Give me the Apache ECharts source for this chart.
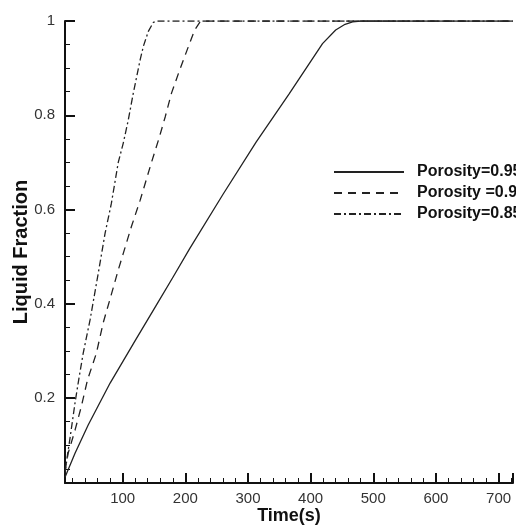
<!DOCTYPE html>
<html>
<head>
<meta charset="utf-8">
<title>Liquid Fraction</title>
<script src="https://cdn.jsdelivr.net/npm/echarts@6/dist/echarts.min.js"></script>
<style>
  html, body { margin: 0; padding: 0; background: #fff; }
  #chart { width: 516px; height: 525px; }
</style>
</head>
<body>
<div id="chart"></div>
<script>
// values
var legendNames = ['Porosity=0.95', 'Porosity =0.9', 'Porosity=0.85'];

var time095 = [8, 24, 45, 80, 120, 155, 181, 207, 260, 313, 366, 419, 440, 455, 467, 480, 723];
var frac095 = [0.032, 0.083, 0.143, 0.232, 0.322, 0.40, 0.458, 0.517, 0.632, 0.743, 0.846, 0.952, 0.981, 0.993, 0.998, 1, 1];

var time090 = [8, 13, 24, 34, 44, 58, 69, 82, 93, 101, 114, 128, 146, 158, 168, 178, 191, 205, 215, 223, 232, 723];
var frac090 = [0.045, 0.083, 0.132, 0.182, 0.239, 0.295, 0.36, 0.42, 0.472, 0.507, 0.564, 0.62, 0.70, 0.751, 0.797, 0.847, 0.896, 0.946, 0.981, 0.997, 1, 1];

var time085 = [8, 12, 16, 24, 30, 37, 48, 62, 72, 82, 93, 101, 109, 117, 128, 133, 141, 149, 155, 723];
var frac085 = [0.04, 0.08, 0.115, 0.19, 0.24, 0.295, 0.366, 0.472, 0.55, 0.613, 0.70, 0.741, 0.79, 0.847, 0.918, 0.946, 0.978, 0.997, 1, 1];

function pairs(xs, ys) {
    var out = [];
    for (var i = 0; i < xs.length; i++) {
        out.push([xs[i], ys[i]]);
    }
    return out;
}

var myChart = echarts.init(document.getElementById('chart'));
var labelFont = "'Liberation Sans', Arial, sans-serif";
var lineColor = '#222';

var option = {
    animation: false,
    backgroundColor: '#fff',
    grid: {
        left: 65,
        right: 3,
        top: 21,
        bottom: 42,
        containLabel: false,
        outerBoundsMode: 'none'
    },
    legend: {
        orient: 'vertical',
        left: 333,
        top: 164,
        itemWidth: 70,
        itemHeight: 14,
        itemGap: 5,
        padding: 0,
        data: legendNames,
        itemStyle: { opacity: 0 },
        textStyle: {
            fontFamily: labelFont,
            fontSize: 16,
            lineHeight: 14,
            fontWeight: 'bold',
            color: '#111',
            padding: [0, 0, 0, 8]
        }
    },
    xAxis: {
        type: 'value',
        min: 8,
        max: 723,
        splitNumber: 7,
        name: 'Time(s)',
        nameLocation: 'middle',
        nameGap: 24,
        nameMoveOverlap: false,
        nameTextStyle: {
            fontFamily: labelFont,
            fontSize: 18,
            fontWeight: 'bold',
            color: '#111'
        },
        axisLine: { lineStyle: { color: '#111', width: 2 } },
        axisTick: { inside: true, length: 10, lineStyle: { color: '#111', width: 2 } },
        minorTick: { show: true, splitNumber: 5, length: 5, lineStyle: { color: '#111', width: 1 } },
        axisLabel: {
            showMinLabel: false,
            showMaxLabel: false,
            margin: 8,
            fontFamily: labelFont,
            fontSize: 15,
            color: '#333'
        },
        splitLine: { show: false }
    },
    yAxis: {
        type: 'value',
        min: 0.02,
        max: 1,
        splitNumber: 5,
        name: 'Liquid Fraction',
        nameLocation: 'middle',
        nameRotate: 90,
        nameGap: 34,
        nameMoveOverlap: false,
        nameTextStyle: {
            fontFamily: labelFont,
            fontSize: 20,
            fontWeight: 'bold',
            color: '#111'
        },
        axisLine: { show: true, lineStyle: { color: '#111', width: 2 } },
        axisTick: { show: true, inside: true, length: 10, lineStyle: { color: '#111', width: 2 } },
        minorTick: { show: true, splitNumber: 4, length: 5, lineStyle: { color: '#111', width: 1 } },
        axisLabel: {
            showMinLabel: false,
            margin: 10,
            fontFamily: labelFont,
            fontSize: 15,
            color: '#333'
        },
        splitLine: { show: false }
    },
    series: [
        {
            name: legendNames[0],
            type: 'line',
            symbol: 'none',
            data: pairs(time095, frac095),
            lineStyle: { color: lineColor, width: 1.3, type: 'solid' },
            itemStyle: { color: lineColor }
        },
        {
            name: legendNames[1],
            type: 'line',
            symbol: 'none',
            data: pairs(time090, frac090),
            lineStyle: { color: lineColor, width: 1.3, type: [8, 6] },
            itemStyle: { color: lineColor }
        },
        {
            name: legendNames[2],
            type: 'line',
            symbol: 'none',
            data: pairs(time085, frac085),
            lineStyle: { color: lineColor, width: 1.3, type: [7, 3, 2, 3] },
            itemStyle: { color: lineColor }
        }
    ]
};

myChart.setOption(option);
</script>
</body>
</html>
